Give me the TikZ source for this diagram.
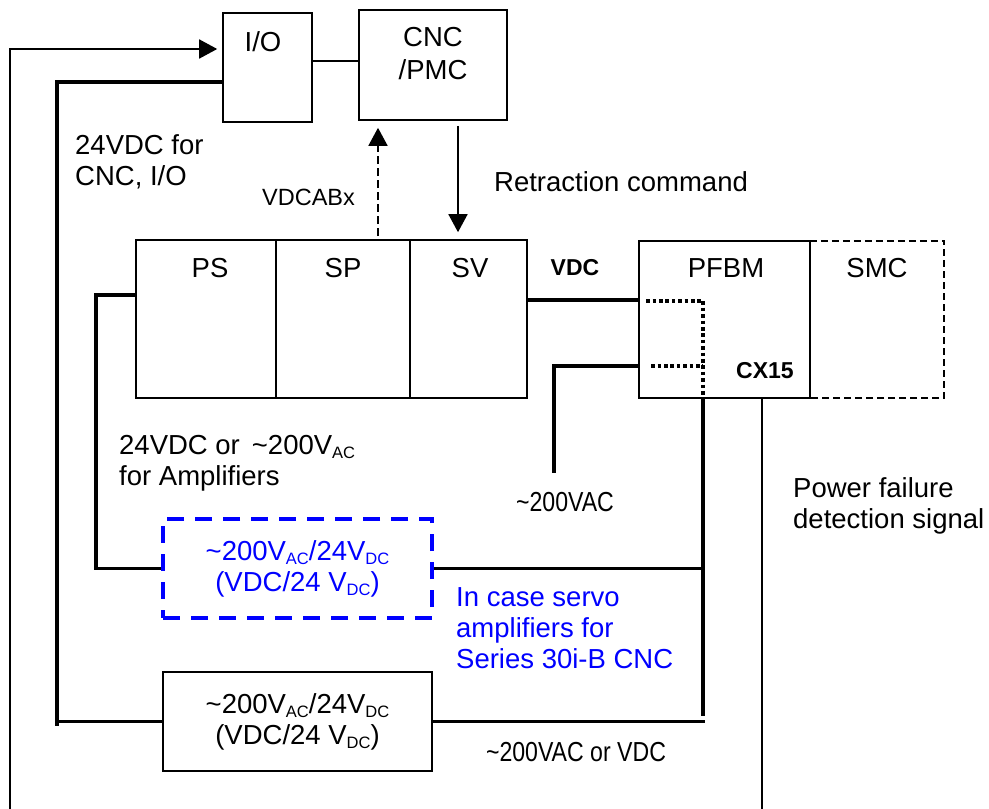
\documentclass[tikz,border=0pt]{standalone}
\usepackage{fontspec}
\setmainfont{Liberation Sans}
\newfontfamily\narrowfont[FakeStretch=0.84]{Liberation Sans}
\usetikzlibrary{arrows.meta}
\newcommand\subx[1]{\raisebox{-4pt}{\fontsize{16.5}{17}\selectfont #1}}
\begin{document}
\begin{tikzpicture}[x=1pt,y=-1pt, font=\fontsize{27.5}{31}\selectfont,
  box/.style={draw, line width=1.6pt, inner sep=0pt},
  thn/.style={line width=1.6pt},
  thk/.style={line width=3.6pt},
  dotln/.style={line width=4pt, dash pattern=on 3.6pt off 2.8pt},
  dsh/.style={line width=1.6pt, dash pattern=on 7pt off 4pt},
  arr/.style={thn, -{Triangle[length=18pt,width=19pt]}},
  lbl/.style={inner sep=0pt},
  narrow/.style={inner sep=0pt, font=\narrowfont\fontsize{27.5}{31}\selectfont},
  bsmall/.style={inner sep=0pt, font=\fontsize{23}{27}\selectfont\bfseries},
  blu/.style={text=blue},
]
\useasboundingbox (0,0) rectangle (989,809);

% boxes
\node[box, minimum width=89pt, minimum height=109pt] (io) at (267.5,67.5) {};
\node[lbl] (iot) at (263,42) {I/O};
\node[box, minimum width=148pt, minimum height=110pt] (cnc) at (433,65) {};
\node[lbl, align=center] (cnct) at (433,53.5) {CNC\\[2pt]/PMC};

\node[box, minimum width=140pt, minimum height=158pt] (ps) at (206,319) {};
\node[box, minimum width=134pt, minimum height=158pt] (sp) at (343,319) {};
\node[box, minimum width=117pt, minimum height=158pt] (sv) at (468.5,319) {};
\node[lbl] (pst) at (210,268) {PS};
\node[lbl] (spt) at (343,268) {SP};
\node[lbl] (svt) at (470,268) {SV};

\node[inner sep=0pt, minimum width=134pt, minimum height=157pt] (smc) at (877,319.5) {};
\draw[dsh] (smc.north west) -- (smc.north east) -- (smc.south east) -- (smc.south west);
\node[box, minimum width=171pt, minimum height=157pt] (pfbm) at (724.5,319.5) {};
\node[lbl] (pfbmt) at (726,268) {PFBM};
\node[lbl] (smct) at (877,268) {SMC};
\node[bsmall] (cx) at (765,371) {CX15};
\node[bsmall] (vdc) at (575,268) {VDC};

\node[box, draw=blue, line width=4pt, dash pattern=on 17pt off 11pt, minimum width=269pt, minimum height=99pt, align=center, blu] (blb) at (297.5,568.5)
  {\textasciitilde200V\subx{AC}/24V\subx{DC}\\(VDC/24 V\subx{DC})};
\node[box, minimum width=269pt, minimum height=99pt, align=center] (bot) at (297.5,721.5)
  {\textasciitilde200V\subx{AC}/24V\subx{DC}\\(VDC/24 V\subx{DC})};

% texts
\node[lbl, anchor=west, align=left] (t24) at (75,162) {24VDC for\\CNC, I/O};
\node[lbl, anchor=west, font=\fontsize{23.5}{27}\selectfont] (tvd) at (262,197) {VDCABx};
\node[lbl, anchor=west] (tret) at (494,182) {Retraction command};
\node[lbl, anchor=west, align=left] (tamp) at (119,463) {24VDC or\hspace{12pt}\textasciitilde200V\subx{AC}\\for Amplifiers};
\node[narrow] (t200) at (565,502) {\textasciitilde200VAC};
\node[lbl, anchor=west, align=left] (tpf) at (793,506) {Power failure\\detection signal};
\node[lbl, anchor=west, align=left, blu] (tcase) at (456,628) {In case servo\\amplifiers for\\Series 30i-B CNC};
\node[narrow] (t200b) at (576,752) {\textasciitilde200VAC or VDC};

% free ends
\coordinate (lb) at (10,809);
\coordinate (c57) at (57,726);
\coordinate (ac) at (554,473);
\coordinate (pj) at (703,398);
\coordinate (pe) at (703,716);
\coordinate (pfd) at (762,809);

% connectors
\draw[arr, shorten >=5pt] (lb) |- ([yshift=18.5pt]io.west);
\draw[thk] ([yshift=-14.5pt]io.west) -| (c57);
\draw[thk] (bot.west) -- (bot.west -| c57);
\draw[thn] ([yshift=6.5pt]io.east) -- ([yshift=6.5pt]io.east -| cnc.west);
\draw[thn, dash pattern=on 8pt off 4pt, -{Triangle[length=18pt,width=19pt]}, shorten <=3pt, shorten >=7pt]
  ([xshift=35pt]sp.north) -- ([xshift=35pt]sp.north |- cnc.south);
\draw[arr, shorten <=5pt, shorten >=7pt] ([xshift=-10.5pt]sv.north |- cnc.south) -- ([xshift=-10.5pt]sv.north);
\draw[thk] ([yshift=19pt]sv.east) -- ([yshift=19pt]sv.east -| pfbm.west);
\draw[dotln] ([xshift=8pt,yshift=19pt]pfbm.west) -- ([yshift=19pt]pfbm.west -| pj) -- (pj);
\draw[dotln] ([xshift=13pt,yshift=-46.5pt]pfbm.west) -- ([yshift=-46.5pt]pfbm.west -| pj);
\draw[thk] ([yshift=-46.5pt]pfbm.west) -| (ac);
\draw[thk] (pj) -- (pe);
\draw[thn] ([xshift=37.5pt]pfbm.south) -- (pfd);
\draw[thk] ([yshift=24pt]ps.west) -- ++(-39,0) |- (blb.west);
\draw[thk] (blb.east) -- (blb.east -| pj);
\draw[thk] (bot.east) -- ++(272,0);
\end{tikzpicture}
\end{document}
